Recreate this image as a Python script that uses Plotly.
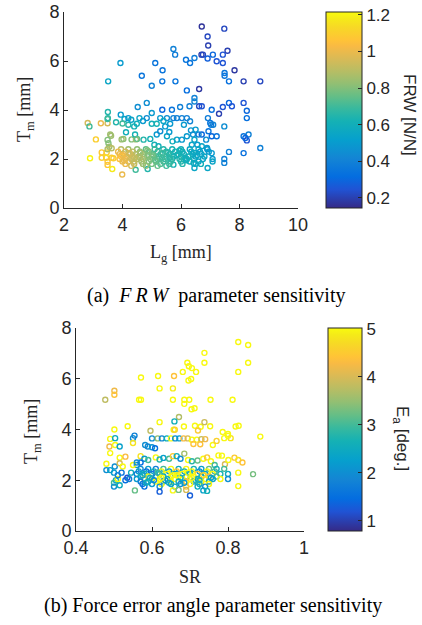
import plotly.graph_objects as go

# ---------------- (a) data: L_g [mm], T_m [mm], FRW [N/N] ----------------
lg_a = [6.71, 7.48, 6.91, 6.93, 5.74, 7.59, 5.80, 6.70, 6.75, 7.09, 7.43, 6.91, 6.46, 6.17, 6.31, 7.22, 7.43, 3.93, 5.12, 7.83,
        5.37, 7.49, 7.49, 4.66, 3.51, 5.36, 5.81, 7.64, 8.14, 8.71, 5.00, 6.20, 6.62, 6.46, 6.46, 4.83, 4.52, 6.29, 6.62, 6.71,
        7.43, 7.64, 7.74, 8.14, 5.36, 5.69, 5.97, 7.05, 8.25, 8.25, 7.30, 8.31, 8.14, 8.25, 8.14, 8.71, 7.64, 7.48, 7.48, 6.71,
        6.94, 7.05, 7.22, 6.92, 7.00, 7.03, 7.48, 8.20, 7.10,
        2.81, 2.87, 2.89, 3.09, 3.26, 3.49, 3.29, 3.46, 3.44, 3.29, 3.63, 3.49, 3.49, 3.69, 3.65, 3.99, 4.45, 4.86, 3.50, 3.50,
        3.49, 3.78, 3.58, 3.61, 3.49, 3.52, 3.55, 3.63, 3.49,
        3.94, 4.07, 4.20, 3.97, 4.31, 4.46, 4.03, 4.72, 4.12, 4.20, 4.40, 4.49, 4.58, 4.83, 5.00, 5.00, 5.17, 5.29, 5.52, 5.74,
        5.86, 6.03, 6.20, 6.31, 5.46, 5.63, 5.17, 5.29, 5.52, 5.71, 5.86, 6.03, 6.20, 6.34, 6.41, 6.46, 6.37, 4.95, 5.09, 5.23,
        4.43, 6.56, 6.71, 6.86, 6.89, 7.05, 7.08, 7.08, 6.91, 6.46, 6.68, 5.74, 6.43, 4.00, 4.30, 4.70, 5.40, 6.10, 4.50, 5.60,
        6.60, 6.50,
        3.95, 4.20, 4.50, 4.80, 5.10, 5.40, 5.70, 6.00, 6.30, 6.60, 6.90,
        3.85, 4.10, 4.35, 4.60, 4.90, 5.20, 5.50, 5.80, 6.05, 6.35, 6.65, 6.95,
        3.90, 4.05, 4.25, 4.45, 4.70, 5.00, 5.30, 5.60, 5.90, 6.10, 6.40, 6.70,
        3.95, 4.15, 4.35, 4.55, 4.75, 5.00, 5.25, 5.50, 5.75, 6.00, 6.25, 6.50, 6.80,
        3.90, 4.10, 4.30, 4.50, 4.70, 4.95, 5.20, 5.45, 5.70, 5.95, 6.20, 6.45, 6.75,
        4.00, 4.20, 4.40, 4.65, 4.90, 5.15, 5.40, 5.65, 6.00, 6.30, 6.60,
        4.10, 4.40, 4.70, 5.00, 5.30, 5.60, 6.05, 6.50,
        4.30, 4.80, 5.20, 5.50,
        4.00, 4.25, 4.60, 4.85, 5.05, 5.35, 5.55, 5.85, 6.15, 6.45,
        4.05, 4.40, 4.62, 4.88, 5.12, 5.38, 5.62, 5.95, 6.18, 6.55]
tm_a = [7.41, 7.32, 7.00, 6.63, 6.49, 6.42, 6.26, 6.26, 6.26, 6.26, 6.26, 6.10, 6.12, 6.05, 5.92, 5.99, 5.92, 5.92, 5.92, 5.62,
        5.62, 5.51, 5.40, 5.40, 5.17, 5.17, 5.17, 5.17, 5.17, 5.17, 4.99, 4.80, 4.86, 4.49, 4.35, 4.29, 4.12, 4.15, 4.15, 4.15,
        4.12, 4.29, 4.15, 4.29, 4.01, 4.01, 4.12, 4.01, 3.97, 3.67, 3.85, 3.00, 2.93, 2.76, 2.24, 2.45, 2.29, 2.00, 1.84, 3.00,
        3.13, 2.93, 2.93, 3.67, 3.47, 3.40, 3.33, 2.86, 3.40,
        3.47, 3.33, 2.03, 2.80, 3.46, 3.46, 2.27, 2.27, 2.05, 2.05, 2.05, 1.89, 1.76, 2.03, 1.59, 1.37, 1.56, 1.59, 3.92, 3.67,
        3.63, 3.50, 3.00, 2.95, 2.78, 2.64, 2.50, 2.44, 2.40,
        3.81, 3.63, 3.67, 2.80, 2.80, 2.80, 2.82, 2.79, 3.09, 3.40, 3.33, 3.44, 3.67, 3.67, 3.88, 3.44, 3.44, 3.67, 3.67, 3.67,
        3.67, 3.67, 3.67, 3.54, 3.33, 3.44, 3.00, 3.13, 2.93, 2.72, 2.79, 2.79, 2.93, 3.17, 3.00, 2.79, 2.58, 2.82, 2.58, 2.52,
        3.00, 2.58, 2.52, 2.79, 2.45, 2.24, 2.00, 1.90, 1.63, 1.63, 1.80, 1.77, 1.84, 3.45, 3.60, 3.55, 3.55, 3.40, 2.82, 3.10,
        3.00, 3.20,
        2.40, 2.40, 2.40, 2.40, 2.40, 2.40, 2.40, 2.40, 2.40, 2.40, 2.40,
        2.30, 2.30, 2.30, 2.30, 2.30, 2.30, 2.30, 2.30, 2.30, 2.30, 2.30, 2.30,
        2.20, 2.20, 2.20, 2.20, 2.20, 2.20, 2.20, 2.20, 2.20, 2.20, 2.20, 2.20,
        2.10, 2.10, 2.10, 2.10, 2.10, 2.10, 2.10, 2.10, 2.10, 2.10, 2.10, 2.10, 2.10,
        2.00, 2.00, 2.00, 2.00, 2.00, 2.00, 2.00, 2.00, 2.00, 2.00, 2.00, 2.00, 2.00,
        1.90, 1.90, 1.90, 1.90, 1.90, 1.90, 1.90, 1.90, 1.90, 1.90, 1.90,
        1.80, 1.80, 1.80, 1.80, 1.80, 1.80, 1.80, 1.80,
        1.72, 1.72, 1.72, 1.72,
        2.15, 2.25, 2.05, 2.35, 2.15, 2.05, 2.25, 2.15, 2.05, 2.25,
        1.95, 2.05, 2.25, 2.15, 1.95, 2.25, 2.05, 2.35, 1.95, 2.15]
frw_a = [0.17, 0.22, 0.22, 0.20, 0.40, 0.20, 0.38, 0.20, 0.22, 0.30, 0.25, 0.28, 0.38, 0.35, 0.35, 0.25, 0.25, 0.50, 0.35, 0.18,
         0.35, 0.35, 0.35, 0.35, 0.55, 0.35, 0.35, 0.33, 0.20, 0.22, 0.40, 0.32, 0.18, 0.40, 0.42, 0.45, 0.45, 0.40, 0.22, 0.25,
         0.25, 0.30, 0.25, 0.25, 0.30, 0.35, 0.40, 0.33, 0.30, 0.33, 0.20, 0.40, 0.35, 0.25, 0.33, 0.40, 0.40, 0.40, 0.40, 0.30,
         0.35, 0.30, 0.35, 0.38, 0.35, 0.38, 0.45, 0.30, 0.40,
         0.95, 0.70, 1.20, 1.10, 1.00, 0.95, 1.08, 1.10, 1.15, 1.10, 1.08, 1.05, 1.08, 1.10, 1.18, 1.00, 0.70, 0.65, 0.65, 0.65,
         0.70, 0.65, 0.85, 0.85, 0.80, 0.80, 0.85, 0.90, 0.88,
         0.50, 0.55, 0.50, 0.85, 0.80, 0.85, 0.82, 0.65, 0.60, 0.65, 0.62, 0.60, 0.55, 0.45, 0.50, 0.60, 0.62, 0.50, 0.45, 0.40,
         0.40, 0.40, 0.40, 0.42, 0.50, 0.50, 0.50, 0.45, 0.55, 0.60, 0.55, 0.50, 0.50, 0.48, 0.45, 0.55, 0.55, 0.62, 0.62, 0.60,
         0.62, 0.50, 0.55, 0.45, 0.50, 0.50, 0.50, 0.55, 0.55, 0.55, 0.60, 0.62, 0.55, 0.70, 0.55, 0.50, 0.55, 0.50, 0.75, 0.50,
         0.40, 0.50,
         0.90, 0.85, 0.82, 0.75, 0.70, 0.65, 0.62, 0.60, 0.55, 0.55, 0.50,
         1.00, 0.95, 0.90, 0.82, 0.78, 0.70, 0.65, 0.62, 0.60, 0.58, 0.52, 0.50,
         1.00, 0.95, 0.92, 0.88, 0.82, 0.75, 0.68, 0.65, 0.62, 0.60, 0.58, 0.55,
         1.05, 0.95, 0.92, 0.88, 0.82, 0.78, 0.70, 0.68, 0.62, 0.62, 0.60, 0.55, 0.55,
         1.05, 1.00, 0.95, 0.90, 0.85, 0.80, 0.72, 0.68, 0.65, 0.65, 0.60, 0.58, 0.55,
         1.00, 0.95, 0.90, 0.85, 0.80, 0.75, 0.70, 0.68, 0.65, 0.60, 0.55,
         1.00, 0.92, 0.85, 0.78, 0.72, 0.68, 0.65, 0.58,
         0.95, 0.82, 0.75, 0.70,
         1.02, 0.95, 0.88, 0.80, 0.76, 0.70, 0.66, 0.62, 0.60, 0.56,
         1.00, 0.92, 0.86, 0.80, 0.75, 0.70, 0.66, 0.62, 0.60, 0.56]

# ---------------- (b) data: SR, T_m [mm], E_a [deg.] ----------------
sr_b = [0.827, 0.853, 0.738, 0.693, 0.738, 0.853, 0.697, 0.705, 0.716, 0.681, 0.827, 0.571, 0.616, 0.658, 0.696, 0.703, 0.620, 0.655,
        0.501, 0.501, 0.477, 0.566, 0.571, 0.655, 0.685, 0.698, 0.685, 0.754, 0.812, 0.704, 0.712, 0.671,
        0.620, 0.659, 0.501, 0.536, 0.596, 0.657, 0.660, 0.684, 0.713, 0.728, 0.738, 0.721, 0.753, 0.786, 0.800, 0.790, 0.807, 0.490,
        0.503, 0.488, 0.503, 0.515, 0.490, 0.480, 0.502, 0.515, 0.530, 0.515, 0.523, 0.550, 0.554, 0.550, 0.582, 0.589, 0.600, 0.608,
        0.600, 0.615, 0.626, 0.639, 0.650, 0.661, 0.672, 0.683, 0.694, 0.705, 0.718, 0.730,
        0.709, 0.727, 0.760, 0.770, 0.784, 0.792, 0.801, 0.817, 0.827, 0.838, 0.827, 0.827, 0.866, 0.885, 0.800, 0.820, 0.828, 0.740,
        0.570, 0.580, 0.590, 0.610, 0.620, 0.630, 0.645, 0.655, 0.665, 0.675, 0.685, 0.695, 0.705, 0.720, 0.735, 0.745, 0.755, 0.765,
        0.775, 0.560, 0.570,
        0.480, 0.490, 0.500, 0.505, 0.500, 0.500, 0.510, 0.515, 0.520, 0.510, 0.530, 0.535, 0.540, 0.545, 0.550, 0.555, 0.560,
        0.570, 0.590, 0.610, 0.630, 0.650, 0.670, 0.690, 0.710, 0.730, 0.750, 0.770, 0.790,
        0.565, 0.585, 0.605, 0.625, 0.645, 0.665, 0.685, 0.705, 0.725, 0.745, 0.765,
        0.560, 0.580, 0.600, 0.620, 0.640, 0.660, 0.680, 0.700, 0.720, 0.740, 0.760, 0.780, 0.800,
        0.570, 0.590, 0.610, 0.630, 0.650, 0.670, 0.690, 0.710, 0.730, 0.750, 0.770,
        0.560, 0.580, 0.600, 0.620, 0.640, 0.660, 0.680, 0.700, 0.720, 0.740, 0.760, 0.780, 0.800,
        0.570, 0.590, 0.610, 0.630, 0.650, 0.670, 0.690, 0.710, 0.730, 0.750,
        0.575, 0.600, 0.625, 0.650, 0.675, 0.700, 0.725, 0.750,
        0.580, 0.620, 0.660, 0.690, 0.720, 0.740,
        0.620, 0.700, 0.655, 0.690, 0.735, 0.745, 0.670,
        0.575, 0.595, 0.615, 0.635, 0.655, 0.675, 0.695, 0.715, 0.735, 0.755,
        0.585, 0.605, 0.625, 0.645, 0.665, 0.685, 0.705, 0.725]
tm_b = [7.45, 7.33, 7.02, 6.63, 6.63, 6.63, 6.49, 6.42, 6.27, 6.27, 6.27, 6.05, 6.11, 6.11, 5.93, 5.99, 5.62, 5.62,
        5.53, 5.37, 5.17, 5.17, 5.17, 5.17, 5.17, 5.17, 5.01, 5.17, 5.17, 4.80, 4.84, 4.49,
        4.29, 4.32, 4.00, 4.13, 3.95, 3.99, 3.99, 4.12, 4.15, 4.11, 4.29, 3.96, 4.13, 3.90, 3.82, 3.66, 3.66, 3.63,
        3.66, 3.33, 3.39, 3.33, 3.07, 2.65, 2.54, 2.89, 2.93, 2.67, 2.54, 3.66, 3.76, 3.47, 3.39, 3.33, 3.30, 3.26,
        3.65, 3.65, 3.65, 3.65, 3.65, 3.65, 3.65, 3.65, 3.65, 3.60, 3.60, 3.62,
        3.43, 3.42, 3.39, 3.55, 2.97, 2.63, 2.80, 2.89, 2.80, 2.70, 2.30, 1.77, 2.24, 3.72, 3.75, 4.12, 4.15, 3.62,
        2.95, 2.85, 2.80, 2.90, 2.82, 2.88, 2.85, 2.95, 2.95, 2.85, 3.05, 2.80, 2.75, 2.78, 2.85, 2.90, 2.75, 2.60,
        2.98, 2.60, 2.70,
        2.40, 2.40, 2.30, 2.00, 1.90, 1.75, 2.05, 1.80, 2.30, 2.20, 2.00, 2.10, 2.05, 2.30, 2.60, 1.60, 2.70,
        2.45, 2.45, 2.45, 2.45, 2.45, 2.45, 2.45, 2.45, 2.45, 2.45, 2.45, 2.45,
        2.35, 2.35, 2.35, 2.35, 2.35, 2.35, 2.35, 2.35, 2.35, 2.35, 2.35,
        2.25, 2.25, 2.25, 2.25, 2.25, 2.25, 2.25, 2.25, 2.25, 2.25, 2.25, 2.25, 2.25,
        2.15, 2.15, 2.15, 2.15, 2.15, 2.15, 2.15, 2.15, 2.15, 2.15, 2.15,
        2.05, 2.05, 2.05, 2.05, 2.05, 2.05, 2.05, 2.05, 2.05, 2.05, 2.05, 2.05, 2.05,
        1.95, 1.95, 1.95, 1.95, 1.95, 1.95, 1.95, 1.95, 1.95, 1.95,
        1.85, 1.85, 1.85, 1.85, 1.85, 1.85, 1.85, 1.85,
        1.75, 1.75, 1.75, 1.75, 1.75, 1.75,
        1.55, 1.40, 1.60, 1.62, 1.60, 1.58, 1.62,
        2.20, 2.10, 2.30, 2.00, 2.20, 2.10, 2.30, 2.00, 2.20, 2.10,
        1.90, 2.00, 2.10, 1.90, 2.20, 1.90, 2.10, 2.00]
ea_b = [5.0, 5.0, 5.0, 5.0, 5.0, 5.0, 5.0, 5.0, 5.0, 5.0, 5.0, 5.0, 5.0, 4.4, 5.0, 5.0, 5.0, 4.9,
        4.2, 4.4, 3.8, 5.0, 5.0, 5.0, 5.0, 5.0, 5.0, 5.0, 5.0, 5.0, 5.0, 3.7,
        5.0, 2.6, 5.0, 5.0, 3.8, 5.0, 4.6, 5.0, 5.0, 5.0, 3.9, 4.5, 5.0, 5.0, 5.0, 5.0, 4.8, 5.0,
        2.5, 4.2, 5.0, 2.3, 5.0, 5.0, 2.0, 5.0, 4.3, 4.0, 5.0, 2.0, 1.8, 4.8, 2.0, 1.9, 2.1, 1.5,
        2.0, 3.5, 1.9, 2.6, 5.0, 2.0, 2.2, 4.3, 4.0, 5.0, 5.0, 3.8,
        4.4, 4.4, 5.0, 4.6, 5.0, 4.0, 5.0, 4.5, 4.8, 4.4, 5.0, 5.0, 3.3, 5.0, 5.0, 5.0, 5.0, 4.2,
        4.8, 2.2, 3.0, 5.0, 2.8, 2.3, 3.0, 4.5, 2.6, 2.0, 3.6, 5.0, 2.8, 3.2, 5.0, 4.5, 5.0, 3.0,
        5.0, 2.2, 1.5,
        2.0, 2.3, 2.2, 2.5, 3.0, 2.0, 5.0, 2.5, 1.6, 1.8, 1.5, 1.2, 1.8, 2.5, 5.0, 3.2, 2.0,
        2.0, 2.2, 1.8, 3.0, 5.0, 2.5, 5.0, 2.7, 2.3, 3.2, 2.6, 3.0,
        2.3, 1.5, 2.6, 5.0, 2.2, 4.4, 2.6, 5.0, 2.0, 5.0, 3.0,
        1.8, 2.5, 1.6, 2.8, 5.0, 2.3, 5.0, 2.5, 4.5, 2.3, 5.0, 2.7, 2.5,
        2.6, 5.0, 2.0, 2.5, 5.0, 5.0, 2.4, 5.0, 2.6, 4.3, 3.0,
        2.2, 3.5, 2.4, 5.0, 2.6, 5.0, 5.0, 5.0, 2.5, 5.0, 2.4, 5.0, 2.0,
        1.8, 2.4, 5.0, 2.0, 5.0, 2.6, 4.4, 2.2, 5.0, 2.4,
        1.6, 2.2, 5.0, 2.4, 2.0, 5.0, 2.6, 5.0,
        1.5, 2.0, 2.5, 4.4, 2.5, 2.0,
        1.3, 1.3, 5.0, 4.0, 2.3, 2.6, 3.3,
        2.4, 2.7, 3.0, 2.2, 5.0, 2.5, 5.0, 2.8, 4.6, 2.3,
        2.6, 2.0, 5.0, 2.5, 5.0, 2.2, 5.0, 2.7]

# axis tick definitions
xa_ticks = [2, 4, 6, 8, 10]
xb_ticks = [0.4, 0.6, 0.8, 1.0]
xb_ticktext = ["0.4", "0.6", "0.8", "1"]
y_ticks = [0, 2, 4, 6, 8]
cba_ticks = [0.2, 0.4, 0.6, 0.8, 1.0, 1.2]
cba_ticktext = ["0.2", "0.4", "0.6", "0.8", "1", "1.2"]
cbb_ticks = [1, 2, 3, 4, 5]

parula = [
    [0.000, "rgb(53,42,135)"], [0.095, "rgb(32,83,212)"], [0.159, "rgb(4,109,224)"],
    [0.254, "rgb(20,133,212)"], [0.349, "rgb(6,160,205)"], [0.444, "rgb(21,177,180)"],
    [0.508, "rgb(56,185,158)"], [0.571, "rgb(101,190,134)"], [0.635, "rgb(146,191,115)"],
    [0.698, "rgb(183,189,100)"], [0.762, "rgb(217,186,86)"], [0.825, "rgb(248,186,68)"],
    [0.857, "rgb(255,195,55)"], [0.921, "rgb(247,216,38)"], [0.968, "rgb(245,235,24)"],
    [1.000, "rgb(249,251,14)"],
]

W, H = 422, 625
def px(x): return x / W
def py(y): return 1 - y / H

AX = "#262626"
SANS = "Liberation Sans, Arial, sans-serif"
SERIF = "Liberation Serif, Times New Roman, serif"

fig = go.Figure()
fig.add_trace(go.Scatter(
    x=lg_a, y=tm_a, mode="markers", xaxis="x", yaxis="y",
    marker=dict(symbol="circle-open", size=5, color=frw_a, coloraxis="coloraxis",
                line=dict(width=1.4)),
    showlegend=False, hoverinfo="skip"))
fig.add_trace(go.Scatter(
    x=sr_b, y=tm_b, mode="markers", xaxis="x2", yaxis="y2",
    marker=dict(symbol="circle-open", size=5, color=ea_b, coloraxis="coloraxis2",
                line=dict(width=1.4)),
    showlegend=False, hoverinfo="skip"))

axis_common = dict(showgrid=False, zeroline=False, showline=True, linecolor=AX, linewidth=1,
                   ticks="inside", ticklen=4, tickcolor=AX, tickwidth=1, automargin=False,
                   tickfont=dict(family=SANS, size=18, color=AX), mirror=False)

fig.update_layout(
    template="none",
    width=W, height=H, margin=dict(l=0, r=0, t=0, b=0, autoexpand=False),
    paper_bgcolor="white", plot_bgcolor="white",
    xaxis=dict(domain=[px(64), px(298)], range=[2, 10], tickvals=xa_ticks, anchor="y", **axis_common),
    yaxis=dict(domain=[py(208), py(12)], range=[0, 8], tickvals=y_ticks, anchor="x", **axis_common),
    xaxis2=dict(domain=[px(76), px(304)], range=[0.4, 1.0], tickvals=xb_ticks, ticktext=xb_ticktext,
                anchor="y2", **axis_common),
    yaxis2=dict(domain=[py(531), py(328)], range=[0, 8], tickvals=y_ticks, anchor="x2", **axis_common),
    coloraxis=dict(colorscale=parula, cmin=0.145, cmax=1.216,
                   colorbar=dict(x=px(326), xanchor="left", y=py(12), yanchor="top",
                                 len=196 / H, lenmode="fraction", thickness=36, thicknessmode="pixels",
                                 xpad=0, ypad=0, outlinewidth=1, outlinecolor=AX,
                                 ticks="inside", ticklen=4, tickcolor=AX,
                                 tickvals=cba_ticks, ticktext=cba_ticktext,
                                 tickfont=dict(family=SANS, size=17, color=AX))),
    coloraxis2=dict(colorscale=parula, cmin=0.79, cmax=5.02,
                    colorbar=dict(x=px(328), xanchor="left", y=py(328), yanchor="top",
                                  len=203 / H, lenmode="fraction", thickness=34, thicknessmode="pixels",
                                  xpad=0, ypad=0, outlinewidth=1, outlinecolor=AX,
                                  ticks="inside", ticklen=4, tickcolor=AX,
                                  tickvals=cbb_ticks,
                                  tickfont=dict(family=SANS, size=17, color=AX))),
)

ann = [
    dict(text="L<sub>g</sub> [mm]", x=px(181), y=py(253), font=dict(family=SERIF, size=18, color=AX)),
    dict(text="T<sub>m</sub> [mm]", x=px(26), y=py(110), textangle=-90, font=dict(family=SERIF, size=18, color=AX)),
    dict(text="FRW [N/N]", x=px(409), y=py(115), textangle=90, font=dict(family=SANS, size=17, color=AX)),
    dict(text="(a)\u00a0 <i>F\u2009R\u2009W</i>\u00a0 parameter sensitivity", x=px(216), y=py(295),
         font=dict(family=SERIF, size=20, color="black")),
    dict(text="SR", x=px(190), y=py(577), font=dict(family=SERIF, size=18, color=AX)),
    dict(text="T<sub>m</sub> [mm]", x=px(32), y=py(432), textangle=-90, font=dict(family=SERIF, size=18, color=AX)),
    dict(text="E<sub>a</sub> [deg.]", x=px(401), y=py(438), textangle=90, font=dict(family=SANS, size=17, color=AX)),
    dict(text="(b) Force error angle parameter sensitivity", x=px(213), y=py(605),
         font=dict(family=SERIF, size=20, color="black")),
]
for a in ann:
    a.update(xref="paper", yref="paper", showarrow=False, xanchor="center", yanchor="middle")
    fig.add_annotation(**a)

fig.write_html("out.html", config={"displayModeBar": False},
               post_script="document.body.style.margin='0px';document.body.style.padding='0px';")
